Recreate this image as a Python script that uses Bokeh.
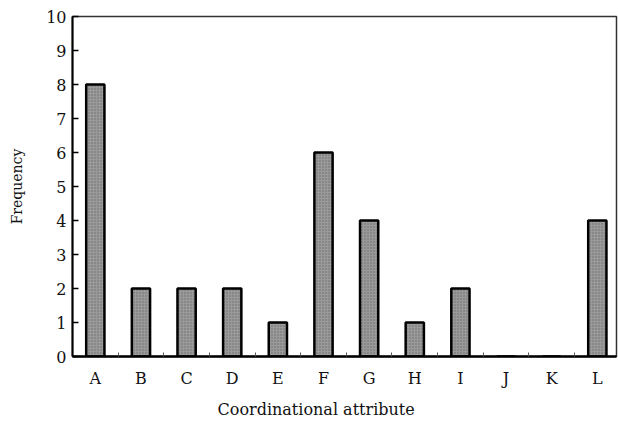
from bokeh.plotting import figure
from bokeh.models import Range1d, FixedTicker, ColumnDataSource, Title
from bokeh.embed import file_html
from bokeh.resources import INLINE

categories = ["A", "B", "C", "D", "E", "F", "G", "H", "I", "J", "K", "L"]
frequency = [8, 2, 2, 2, 1, 6, 4, 1, 2, 0, 0, 4]
y_ticks = [0, 1, 2, 3, 4, 5, 6, 7, 8, 9, 10]

xs = list(range(len(categories)))
src = ColumnDataSource(dict(x=xs, top=frequency))

p = figure(frame_width=544, frame_height=340, width=618, height=413,
           output_backend="svg", toolbar_location=None,
           x_range=Range1d(-0.5, 11.42), y_range=Range1d(0, 10),
           min_border_left=72, min_border_right=2, min_border_top=16, min_border_bottom=57)
p.background_fill_color = "white"
p.border_fill_color = "white"
p.outline_line_color = "#333333"
p.outline_line_width = 1.5
p.grid.visible = False

p.vbar(x="x", top="top", bottom=0, width=0.4, source=src,
       fill_color="#9a9a9a", line_color="black", line_width=2.5,
       hatch_pattern="dot", hatch_color="#6a6a6a", hatch_scale=3, hatch_weight=1)

font = "DejaVu Serif"
xa = p.xaxis[0]
xa.ticker = FixedTicker(ticks=xs, minor_ticks=[i + 0.5 for i in xs[:-1]])
xa.major_label_overrides = {i: c for i, c in enumerate(categories)}
xa.major_tick_line_color = None
xa.minor_tick_in = 4
xa.minor_tick_out = 0
xa.minor_tick_line_color = "#555555"
xa.axis_line_width = 2.5
xa.axis_line_color = "black"
xa.major_label_text_font = font
xa.major_label_text_font_size = "16px"
xa.major_label_text_color = "#111111"
xa.major_label_standoff = 6

# x-axis title, set slightly left of centre as in the reference
p.add_layout(Title(text="Coordinational attribute", align="left", offset=145,
                   text_font=font, text_font_size="16px", text_font_style="normal",
                   text_color="#111111", standoff=14), "below")

ya = p.yaxis[0]
ya.ticker = FixedTicker(ticks=y_ticks)
ya.major_tick_in = 6
ya.major_tick_out = 0
ya.minor_tick_line_color = None
ya.major_tick_line_width = 1.5
ya.axis_line_width = 2
ya.axis_line_color = "black"
ya.major_label_text_font = font
ya.major_label_text_font_size = "16px"
ya.major_label_text_color = "#111111"
ya.major_label_standoff = 6
ya.axis_label = "Frequency"
ya.axis_label_text_font = font
ya.axis_label_text_font_size = "14px"
ya.axis_label_text_font_style = "normal"
ya.axis_label_standoff = 18
ya.axis_label_text_color = "#111111"

open("out.html", "w").write(file_html(p, INLINE))
